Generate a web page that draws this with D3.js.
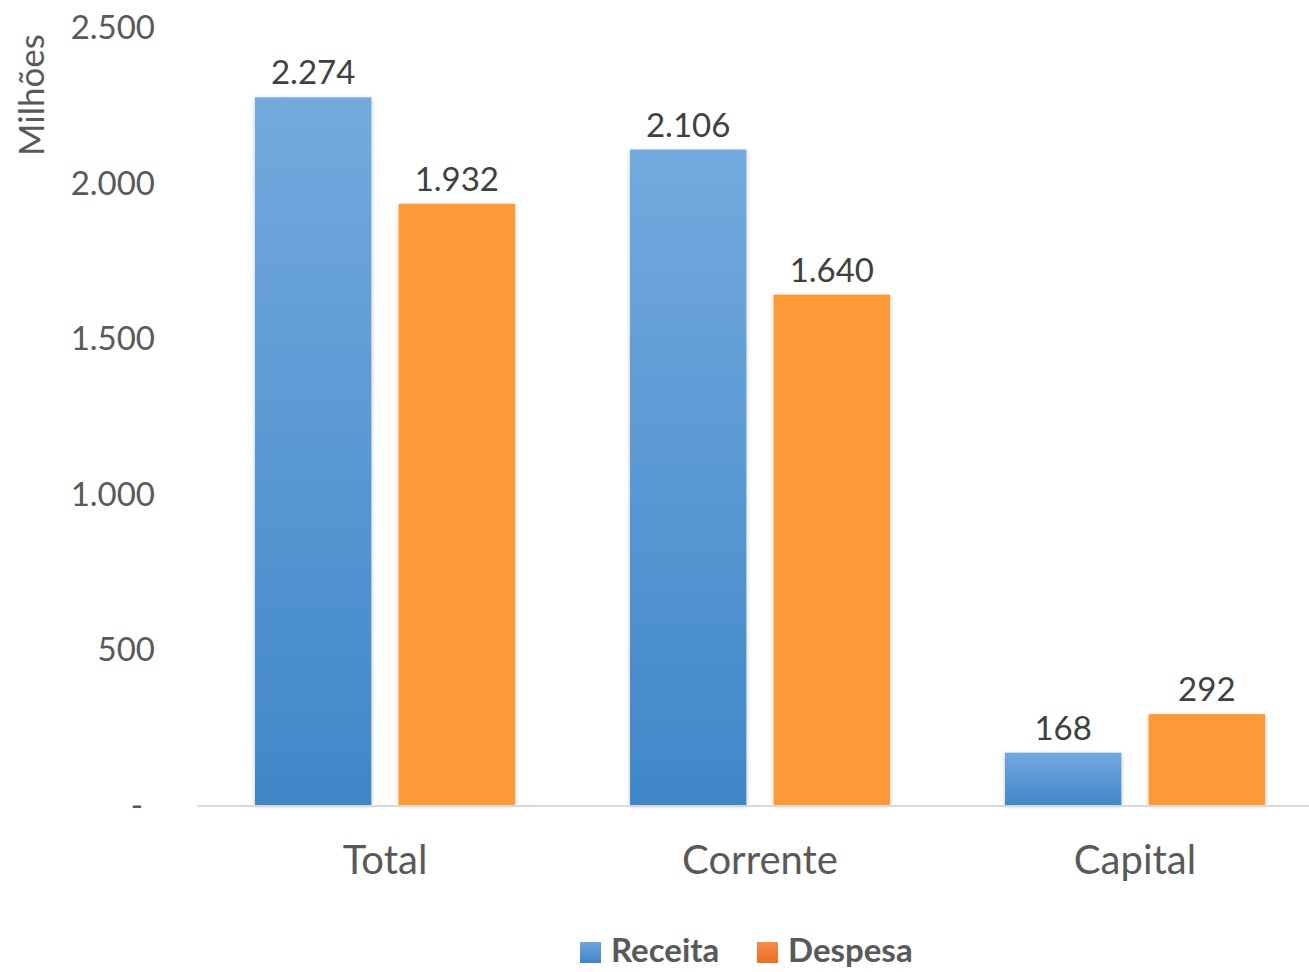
<!DOCTYPE html>
<html>
<head>
<meta charset="utf-8">
<script src="https://cdn.jsdelivr.net/npm/d3@7"></script>
<style>
  body { margin: 0; background: #fff; }
  svg { display: block; font-family: Lato, "Open Sans", sans-serif; }
</style>
</head>
<body>
<div id="chart"></div>
<script>
var categories = ['Total', 'Corrente', 'Capital'];
var series = ['Receita', 'Despesa'];
var receita = [2274, 2106, 168];
var despesa = [1932, 1640, 292];
var yTicks = [0, 500, 1000, 1500, 2000, 2500];

var width = 1309, height = 972;
var fmt = d3.formatLocale({decimal: ',', thousands: '.', grouping: [3], currency: ['', '']}).format(',d');

var svg = d3.select('#chart').append('svg')
    .attr('width', width)
    .attr('height', height);

var defs = svg.append('defs');

var gBlue = defs.append('linearGradient')
    .attr('id', 'gradBlue').attr('x1', 0).attr('y1', 0).attr('x2', 0).attr('y2', 1);
gBlue.append('stop').attr('offset', '0%').attr('stop-color', '#73aade');
gBlue.append('stop').attr('offset', '100%').attr('stop-color', '#4087c8');

var gBlueL = defs.append('linearGradient')
    .attr('id', 'gradBlueLeg').attr('x1', 0).attr('y1', 0).attr('x2', 0).attr('y2', 1);
gBlueL.append('stop').attr('offset', '0%').attr('stop-color', '#6fa6dc');
gBlueL.append('stop').attr('offset', '100%').attr('stop-color', '#3f85c8');

var gOrL = defs.append('linearGradient')
    .attr('id', 'gradOrLeg').attr('x1', 0).attr('y1', 0).attr('x2', 0).attr('y2', 1);
gOrL.append('stop').attr('offset', '0%').attr('stop-color', '#f48d4e');
gOrL.append('stop').attr('offset', '100%').attr('stop-color', '#ec6f1e');

var shadow = defs.append('filter')
    .attr('id', 'shadow').attr('x', '-10%').attr('y', '-10%').attr('width', '120%').attr('height', '120%');
shadow.append('feDropShadow')
    .attr('dx', 0).attr('dy', 1).attr('stdDeviation', 2)
    .attr('flood-color', '#000').attr('flood-opacity', 0.25);

var y = d3.scaleLinear()
    .domain([0, 2500])
    .range([805, 27]);

var x = d3.scaleBand()
    .domain(categories)
    .range([197.5, 1322.5]);

var x1 = d3.scaleBand()
    .domain(series)
    .range([57.5, x.bandwidth() - 57.5])
    .paddingInner(0.19);

var values = {Receita: receita, Despesa: despesa};
var fills = {Receita: 'url(#gradBlue)', Despesa: '#fd9a37'};

// y axis labels
svg.append('g')
    .selectAll('text')
    .data(yTicks)
    .enter()
    .append('text')
    .text((d) => d === 0 ? '-' : fmt(d))
    .attr('x', (d) => d === 0 ? 137 : 155)
    .attr('y', (d) => y(d) + 12)
    .attr('text-anchor', (d) => d === 0 ? 'middle' : 'end')
    .attr('font-size', '33px')
    .attr('fill', '#595959');

svg.append('text')
    .text('Milhões')
    .attr('transform', 'translate(44,95) rotate(-90)')
    .attr('text-anchor', 'middle')
    .attr('font-size', '35px')
    .attr('fill', '#595959');

// bars
var groups = svg.append('g')
    .selectAll('g')
    .data(categories)
    .enter()
    .append('g')
    .attr('transform', (d) => 'translate(' + x(d) + ',0)');

groups.selectAll('rect')
    .data((d, i) => series.map((s) => ({s: s, v: values[s][i]})))
    .enter()
    .append('rect')
    .attr('x', (d) => x1(d.s))
    .attr('y', (d) => y(d.v))
    .attr('width', x1.bandwidth())
    .attr('height', (d) => y(0) - y(d.v))
    .attr('fill', (d) => fills[d.s])
    .attr('filter', 'url(#shadow)');

groups.selectAll('text')
    .data((d, i) => series.map((s) => ({s: s, v: values[s][i]})))
    .enter()
    .append('text')
    .text((d) => fmt(d.v))
    .attr('x', (d) => x1(d.s) + x1.bandwidth() / 2)
    .attr('y', (d) => y(d.v) - 13)
    .attr('text-anchor', 'middle')
    .attr('font-size', '33px')
    .attr('fill', '#404040');

// x axis line
svg.append('line')
    .attr('x1', 197.5)
    .attr('x2', width)
    .attr('y1', y(0) + 1)
    .attr('y2', y(0) + 1)
    .style('stroke', '#d9d9d9')
    .style('stroke-width', 2);

svg.append('g')
    .selectAll('text')
    .data(categories)
    .enter()
    .append('text')
    .text((d) => d)
    .attr('x', (d) => x(d) + x.bandwidth() / 2)
    .attr('y', 874)
    .attr('text-anchor', 'middle')
    .attr('font-size', '40px')
    .attr('fill', '#595959');

// legend
var legend = [
    {name: 'Receita', fill: 'url(#gradBlueLeg)', x: 580},
    {name: 'Despesa', fill: 'url(#gradOrLeg)', x: 757}
];

var leg = svg.append('g')
    .selectAll('g')
    .data(legend)
    .enter()
    .append('g')
    .attr('transform', (d) => 'translate(' + d.x + ',0)');

leg.append('rect')
    .attr('x', 0)
    .attr('y', 942)
    .attr('width', 21)
    .attr('height', 21)
    .attr('fill', (d) => d.fill);

leg.append('text')
    .text((d) => d.name)
    .attr('x', 31)
    .attr('y', 962)
    .attr('font-size', '33px')
    .attr('font-weight', 'bold')
    .attr('fill', '#595959');
</script>
</body>
</html>
